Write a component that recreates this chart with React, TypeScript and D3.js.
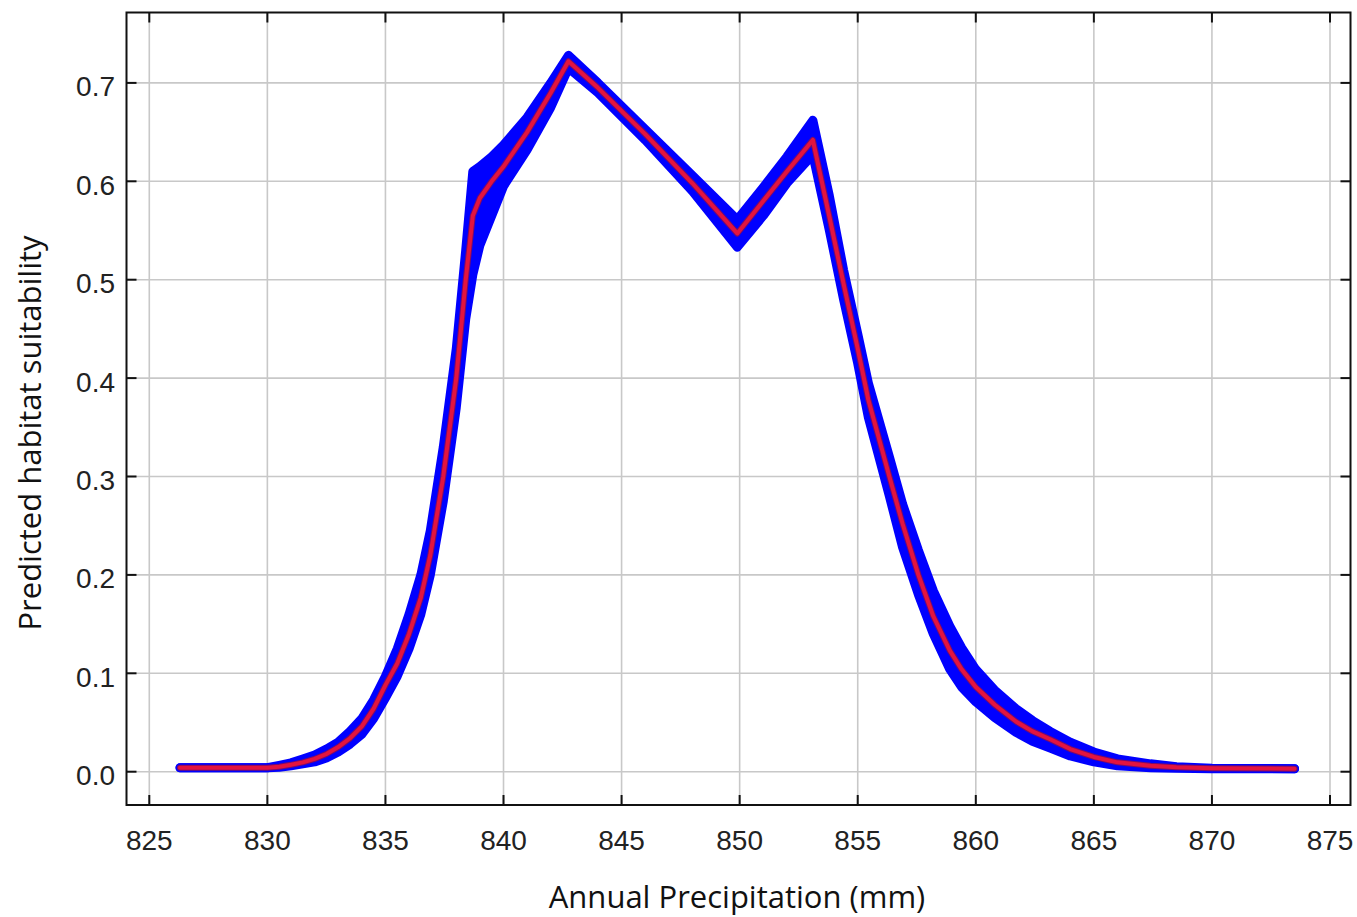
import React, { useEffect, useRef } from "react";
import * as d3 from "d3";

// annual precipitation (mm) sample positions
const precip = [
  826.3, 828, 830, 830.5, 831, 831.5, 832, 832.5, 833, 833.5, 834, 834.5, 835,
  835.5, 836, 836.5, 836.9, 837.45, 838.0, 838.4, 838.7, 839.0, 839.5, 840,
  841, 842, 842.75, 844, 846, 848, 849.9, 851, 852, 853.1, 853.8, 854.4, 855.0,
  855.45, 856.34, 856.9, 857.57, 858.2, 858.9, 859.4, 860, 860.8, 861.7, 862.4,
  863.15, 864, 865, 866, 867.4, 868.5, 870, 873.5,
];
// mean response (red)
const meanSuit = [
  0.004, 0.004, 0.004, 0.005, 0.007, 0.0095, 0.013, 0.018, 0.025, 0.034,
  0.046, 0.064, 0.088, 0.11, 0.14, 0.177, 0.22, 0.3, 0.4, 0.5, 0.565, 0.583,
  0.6, 0.615, 0.65, 0.69, 0.722, 0.695, 0.648, 0.598, 0.547, 0.58, 0.61, 0.642,
  0.564, 0.496, 0.43, 0.378, 0.3, 0.252, 0.2, 0.158, 0.123, 0.104, 0.086,
  0.068, 0.051, 0.041, 0.033, 0.023, 0.015, 0.0095, 0.006, 0.0045, 0.0035,
  0.003,
];
// envelope of the replicate curves (blue)
const upperSuit = [
  0.004, 0.004, 0.004, 0.0065, 0.009, 0.013, 0.017, 0.023, 0.03, 0.041, 0.054,
  0.073, 0.097, 0.125, 0.16, 0.2, 0.245, 0.33, 0.43, 0.53, 0.61, 0.615, 0.625,
  0.637, 0.665, 0.7, 0.728, 0.7, 0.653, 0.606, 0.561, 0.594, 0.625, 0.662,
  0.585, 0.51, 0.445, 0.395, 0.32, 0.272, 0.225, 0.184, 0.148, 0.126, 0.104,
  0.083, 0.064, 0.052, 0.041, 0.03, 0.02, 0.013, 0.008, 0.005, 0.0035, 0.003,
];
const lowerSuit = [
  0.004, 0.004, 0.004, 0.0045, 0.006, 0.008, 0.01, 0.014, 0.02, 0.028, 0.038,
  0.054, 0.075, 0.097, 0.125, 0.16, 0.2, 0.275, 0.37, 0.46, 0.505, 0.535,
  0.565, 0.595, 0.632, 0.675, 0.715, 0.69, 0.642, 0.59, 0.533, 0.565, 0.598,
  0.627, 0.55, 0.48, 0.415, 0.36, 0.28, 0.228, 0.18, 0.14, 0.104, 0.086,
  0.071, 0.055, 0.04, 0.031, 0.024, 0.016, 0.01, 0.006, 0.004, 0.0035, 0.003,
  0.003,
];
const xTicks = [825, 830, 835, 840, 845, 850, 855, 860, 865, 870, 875];
const yTicks = [0, 0.1, 0.2, 0.3, 0.4, 0.5, 0.6, 0.7];

const width = 1357;
const height = 917;

export default function App() {
  const ref = useRef<SVGSVGElement>(null);

  useEffect(() => {
    const svg = d3.select(ref.current);
    svg.selectAll("*").remove();

    const left = 126.5, right = 1350.5, top = 12.5, bottom = 805;
    const x = d3.scaleLinear().domain([825, 875]).range([149.3, 1330]);
    const y = d3.scaleLinear().domain([0, 0.7]).range([771.7, 82.9]);
    const idx = d3.range(precip.length);

    // grid
    const grid = svg.append("g").attr("stroke", "#c8c8c8").attr("stroke-width", 1.6);
    grid.selectAll("line.gx").data(xTicks).join("line")
      .attr("x1", (d) => x(d)).attr("x2", (d) => x(d))
      .attr("y1", top).attr("y2", bottom);
    grid.selectAll("line.gy").data(yTicks).join("line")
      .attr("class", "gy")
      .attr("y1", (d) => y(d)).attr("y2", (d) => y(d))
      .attr("x1", left).attr("x2", right);

    // blue envelope
    const area = d3.area<number>()
      .x((i) => x(precip[i]))
      .y0((i) => y(lowerSuit[i]))
      .y1((i) => y(upperSuit[i]));
    svg.append("path").attr("d", area(idx)).attr("fill", "#0000ff");
    [upperSuit, lowerSuit].forEach((s) => {
      const l = d3.line<number>().x((i) => x(precip[i])).y((i) => y(s[i]));
      svg.append("path").attr("d", l(idx))
        .attr("fill", "none").attr("stroke", "#0000ff")
        .attr("stroke-width", 9)
        .attr("stroke-linejoin", "round").attr("stroke-linecap", "round");
    });

    // mean curve
    const mean = d3.line<number>().x((i) => x(precip[i])).y((i) => y(meanSuit[i]));
    svg.append("path").attr("d", mean(idx))
      .attr("fill", "none").attr("stroke", "#7a0a6a")
      .attr("stroke-width", 6).attr("stroke-linejoin", "round").attr("stroke-linecap", "round");
    svg.append("path").attr("d", mean(idx))
      .attr("fill", "none").attr("stroke", "#e3143f")
      .attr("stroke-width", 4).attr("stroke-linejoin", "round").attr("stroke-linecap", "round");

    // frame + inward ticks
    svg.append("rect")
      .attr("x", left).attr("y", top)
      .attr("width", right - left).attr("height", bottom - top)
      .attr("fill", "none").attr("stroke", "#111").attr("stroke-width", 2);
    const ticks = svg.append("g").attr("stroke", "#111").attr("stroke-width", 2);
    xTicks.forEach((d) => {
      ticks.append("line").attr("x1", x(d)).attr("x2", x(d)).attr("y1", bottom).attr("y2", bottom - 10);
      ticks.append("line").attr("x1", x(d)).attr("x2", x(d)).attr("y1", top).attr("y2", top + 10);
    });
    yTicks.forEach((d) => {
      ticks.append("line").attr("y1", y(d)).attr("y2", y(d)).attr("x1", left).attr("x2", left + 10);
      ticks.append("line").attr("y1", y(d)).attr("y2", y(d)).attr("x1", right).attr("x2", right - 10);
    });

    // tick labels
    svg.append("g")
      .attr("font-family", "Liberation Sans, Arial, sans-serif")
      .attr("font-size", 28).attr("fill", "#222").attr("text-anchor", "middle")
      .selectAll("text").data(xTicks).join("text")
      .attr("x", (d) => x(d)).attr("y", 850)
      .text((d) => d);
    svg.append("g")
      .attr("font-family", "Liberation Sans, Arial, sans-serif")
      .attr("font-size", 28).attr("fill", "#222").attr("text-anchor", "end")
      .selectAll("text").data(yTicks).join("text")
      .attr("x", 115).attr("y", (d) => y(d) + 13.5)
      .text((d) => d.toFixed(1));

    // axis titles
    svg.append("text")
      .attr("x", 737).attr("y", 908)
      .attr("text-anchor", "middle")
      .attr("font-family", "Open Sans, sans-serif").attr("font-size", 31)
      .attr("fill", "#111")
      .text("Annual Precipitation (mm)");
    svg.append("text")
      .attr("transform", "translate(41,433) rotate(-90)")
      .attr("text-anchor", "middle")
      .attr("font-family", "Open Sans, sans-serif").attr("font-size", 31)
      .attr("fill", "#111")
      .text("Predicted habitat suitability");
  }, []);

  return (
    <svg
      ref={ref}
      width={width}
      height={height}
      style={{ position: "absolute", left: 0, top: 0, background: "#fff" }}
    ></svg>
  );
}
